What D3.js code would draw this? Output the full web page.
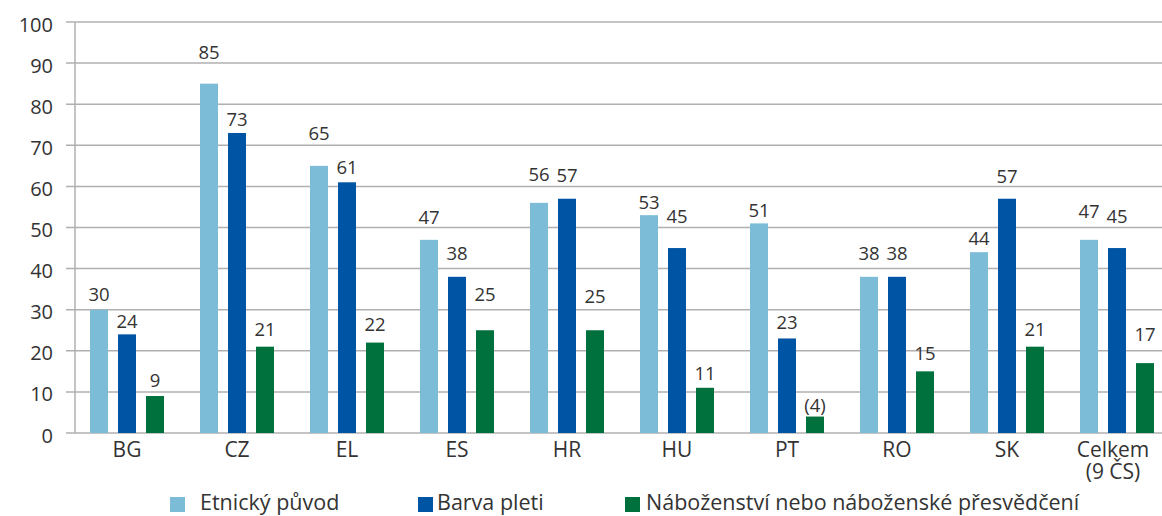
<!DOCTYPE html>
<html><head><meta charset="utf-8">
<script src="https://cdn.jsdelivr.net/npm/d3@7"></script>
<style>
html,body{margin:0;padding:0;background:#fff;}
svg text{font-family:"Open Sans",sans-serif;fill:#333;}
</style></head>
<body><svg id="c" width="1162" height="516"></svg>
<script>
const categories = ["BG","CZ","EL","ES","HR","HU","PT","RO","SK","Celkem|(9 ČS)"];
const seriesNames = ["Etnický původ","Barva pleti","Náboženství nebo náboženské přesvědčení"];
const etnicky = [30,85,65,47,56,53,51,38,44,47];
const barva = [24,73,61,38,57,45,23,38,57,45];
const nabozenstvi = [9,21,22,25,25,11,4,15,21,17];
const nabozenstviLabels = ["9","21","22","25","25","11","(4)","15","21","17"];
const yTicks = [0,10,20,30,40,50,60,70,80,90,100];
// label lift above bar top (px), per series — layout only
const lift = [
  [9,25,26,16,22,6,6,17,7,22],
  [6,7,8,17,17,25,9,17,16,25],
  [9,11,12,29,27,8,5,11,11,22]
];
const colors = ["#7dbcd7","#0054a4","#00703c"];

const svg = d3.select("#c");
const x0 = d3.scaleBand().domain(categories).range([72,1172]).padding(0);
const x1 = d3.scaleBand().domain([0,1,2]).range([18,92]).paddingInner(10/28).paddingOuter(0);
const y = d3.scaleLinear().domain([0,100]).range([433,22]);

// gridlines
svg.append("g").selectAll("line").data(yTicks).join("line")
  .attr("x1",66).attr("x2",1162)
  .attr("y1",d=>y(d)).attr("y2",d=>y(d))
  .attr("stroke","#b0b0b0").attr("stroke-width",1.5);
// y axis line
svg.append("line").attr("x1",75).attr("x2",75).attr("y1",y(100)).attr("y2",y(0))
  .attr("stroke","#b0b0b0").attr("stroke-width",1.5);
// y tick labels
svg.append("g").selectAll("text").data(yTicks).join("text")
  .attr("x",53).attr("y",d=>y(d)+9.5).attr("text-anchor","end")
  .style("font-size","20px").text(d=>d);

const series = [etnicky,barva,nabozenstvi];
const labels = [etnicky.map(String), barva.map(String), nabozenstviLabels];
series.forEach((vals,s)=>{
  const g = svg.append("g");
  g.selectAll("rect").data(vals).join("rect")
    .attr("x",(d,i)=>x0(categories[i])+x1(s))
    .attr("width",x1.bandwidth())
    .attr("y",d=>y(d)).attr("height",d=>y(0)-y(d))
    .attr("fill",colors[s]);
  g.selectAll("text").data(vals).join("text")
    .attr("x",(d,i)=>x0(categories[i])+x1(s)+x1.bandwidth()/2)
    .attr("y",(d,i)=>y(d)-lift[s][i])
    .attr("text-anchor","middle").style("font-size","18.5px")
    .text((d,i)=>labels[s][i]);
});

// category labels
const cg = svg.append("g");
categories.forEach(c=>{
  const lines = c.split("|");
  const cx = x0(c)+x0.bandwidth()/2 - (lines.length>1?4:0);
  const t = cg.append("text").attr("text-anchor","middle")
    .attr("x",cx).attr("y",457).style("font-size","21px");
  lines.forEach((l,k)=>t.append("tspan").attr("x",cx).attr("dy",k?22:0).text(l));
});

// legend
const legX = [170,418,625];
const legTextX = [200,437,646];
const lg = svg.append("g");
seriesNames.forEach((n,s)=>{
  lg.append("rect").attr("x",legX[s]).attr("y",497).attr("width",15).attr("height",15).attr("fill",colors[s]);
  lg.append("text").attr("x",legTextX[s]).attr("y",510).style("font-size","21.5px").text(n);
});
</script></body></html>
